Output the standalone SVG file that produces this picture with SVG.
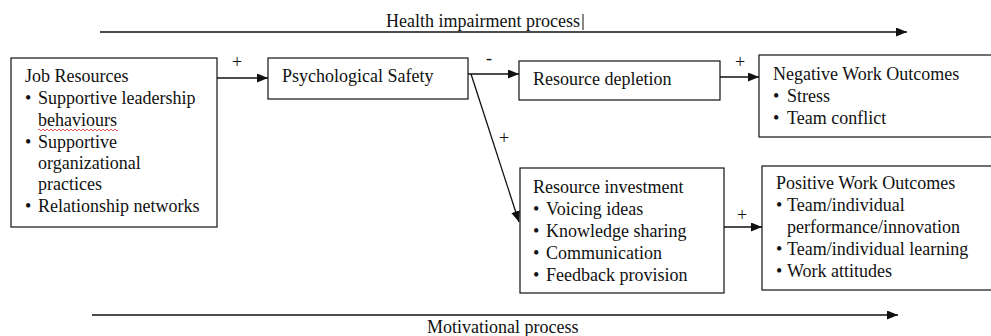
<svg xmlns="http://www.w3.org/2000/svg" width="991" height="336" viewBox="0 0 991 336">
<style>
text{font-family:"Liberation Serif","Times New Roman",serif;font-size:18px;fill:#111}
.sign{font-size:18px}
.box{fill:#fff;stroke:#111;stroke-width:1.2}
.conn{stroke:#111;stroke-width:1.3;fill:none}
</style>
<defs>
<marker id="ah" markerUnits="userSpaceOnUse" markerWidth="12" markerHeight="10" refX="11" refY="4.5" orient="auto">
<path d="M0,0 L11,4.5 L0,9 Z" fill="#111"/>
</marker>
</defs>
<rect width="991" height="336" fill="#fff"/>

<g id="process-labels">
<text x="386" y="27">Health impairment process</text>
<line x1="583" y1="14" x2="583" y2="30" stroke="#111" stroke-width="1"/>
<text x="427" y="333">Motivational process</text>
</g>

<g id="job-resources">
<rect class="box" x="11" y="58" width="206" height="169"/>
<text x="25" y="82">Job Resources</text>
<text x="25" y="104">•</text><text x="38" y="104">Supportive leadership</text>
<text x="38" y="126">behaviours</text>
<path d="M38,130 q1,-2 2,0 t2,0 t2,0 t2,0 t2,0 t2,0 t2,0 t2,0 t2,0 t2,0 t2,0 t2,0 t2,0 t2,0 t2,0 t2,0 t2,0 t2,0 t2,0 t2,0 t2,0 t2,0 t2,0 t2,0 t2,0 t2,0 t2,0 t2,0 t2,0 t2,0 t2,0 t2,0 t2,0 t2,0 t2,0 t2,0 t2,0 t2,0 t2,0 t2,0" fill="none" stroke="#e03030" stroke-width="0.8"/>
<text x="25" y="148">•</text><text x="38" y="148">Supportive</text>
<text x="38" y="169">organizational</text>
<text x="38" y="190">practices</text>
<text x="25" y="212">•</text><text x="38" y="212">Relationship networks</text>
</g>

<g id="psychological-safety">
<rect class="box" x="268" y="58" width="200" height="41"/>
<text x="282" y="82">Psychological Safety</text>
</g>

<g id="resource-depletion">
<rect class="box" x="519" y="61" width="201" height="39"/>
<text x="533" y="85">Resource depletion</text>
</g>

<g id="negative-outcomes">
<rect class="box" x="759" y="55" width="240" height="82"/>
<text x="773" y="80">Negative Work Outcomes</text>
<text x="773" y="102">•</text><text x="787" y="102">Stress</text>
<text x="773" y="124">•</text><text x="787" y="124">Team conflict</text>
</g>

<g id="resource-investment">
<rect class="box" x="520" y="168" width="204" height="125"/>
<text x="533" y="193">Resource investment</text>
<text x="533" y="215">•</text><text x="546" y="215">Voicing ideas</text>
<text x="533" y="237">•</text><text x="546" y="237">Knowledge sharing</text>
<text x="533" y="259">•</text><text x="546" y="259">Communication</text>
<text x="533" y="281">•</text><text x="546" y="281">Feedback provision</text>
</g>

<g id="positive-outcomes">
<rect class="box" x="762" y="166" width="240" height="124"/>
<text x="776" y="189">Positive Work Outcomes</text>
<text x="776" y="211">•</text><text x="787" y="211">Team/individual</text>
<text x="787" y="233">performance/innovation</text>
<text x="776" y="255">•</text><text x="787" y="255">Team/individual learning</text>
<text x="776" y="277">•</text><text x="787" y="277">Work attitudes</text>
</g>

<g id="connectors">
<line class="conn" x1="100" y1="32" x2="907" y2="32" marker-end="url(#ah)"/>
<line class="conn" x1="92" y1="315" x2="898" y2="315" marker-end="url(#ah)"/>
<line class="conn" x1="217" y1="78" x2="268" y2="78" marker-end="url(#ah)"/>
<line class="conn" x1="468" y1="74" x2="519" y2="74" marker-end="url(#ah)"/>
<line class="conn" x1="471" y1="74" x2="519" y2="222" marker-end="url(#ah)"/>
<line class="conn" x1="720" y1="77" x2="759" y2="77" marker-end="url(#ah)"/>
<line class="conn" x1="724" y1="227" x2="762" y2="227" marker-end="url(#ah)"/>
<text class="sign" x="232" y="68">+</text>
<text class="sign" x="486" y="64">-</text>
<text class="sign" x="499" y="144">+</text>
<text class="sign" x="735" y="68">+</text>
<text class="sign" x="737" y="221">+</text>
</g>
</svg>
